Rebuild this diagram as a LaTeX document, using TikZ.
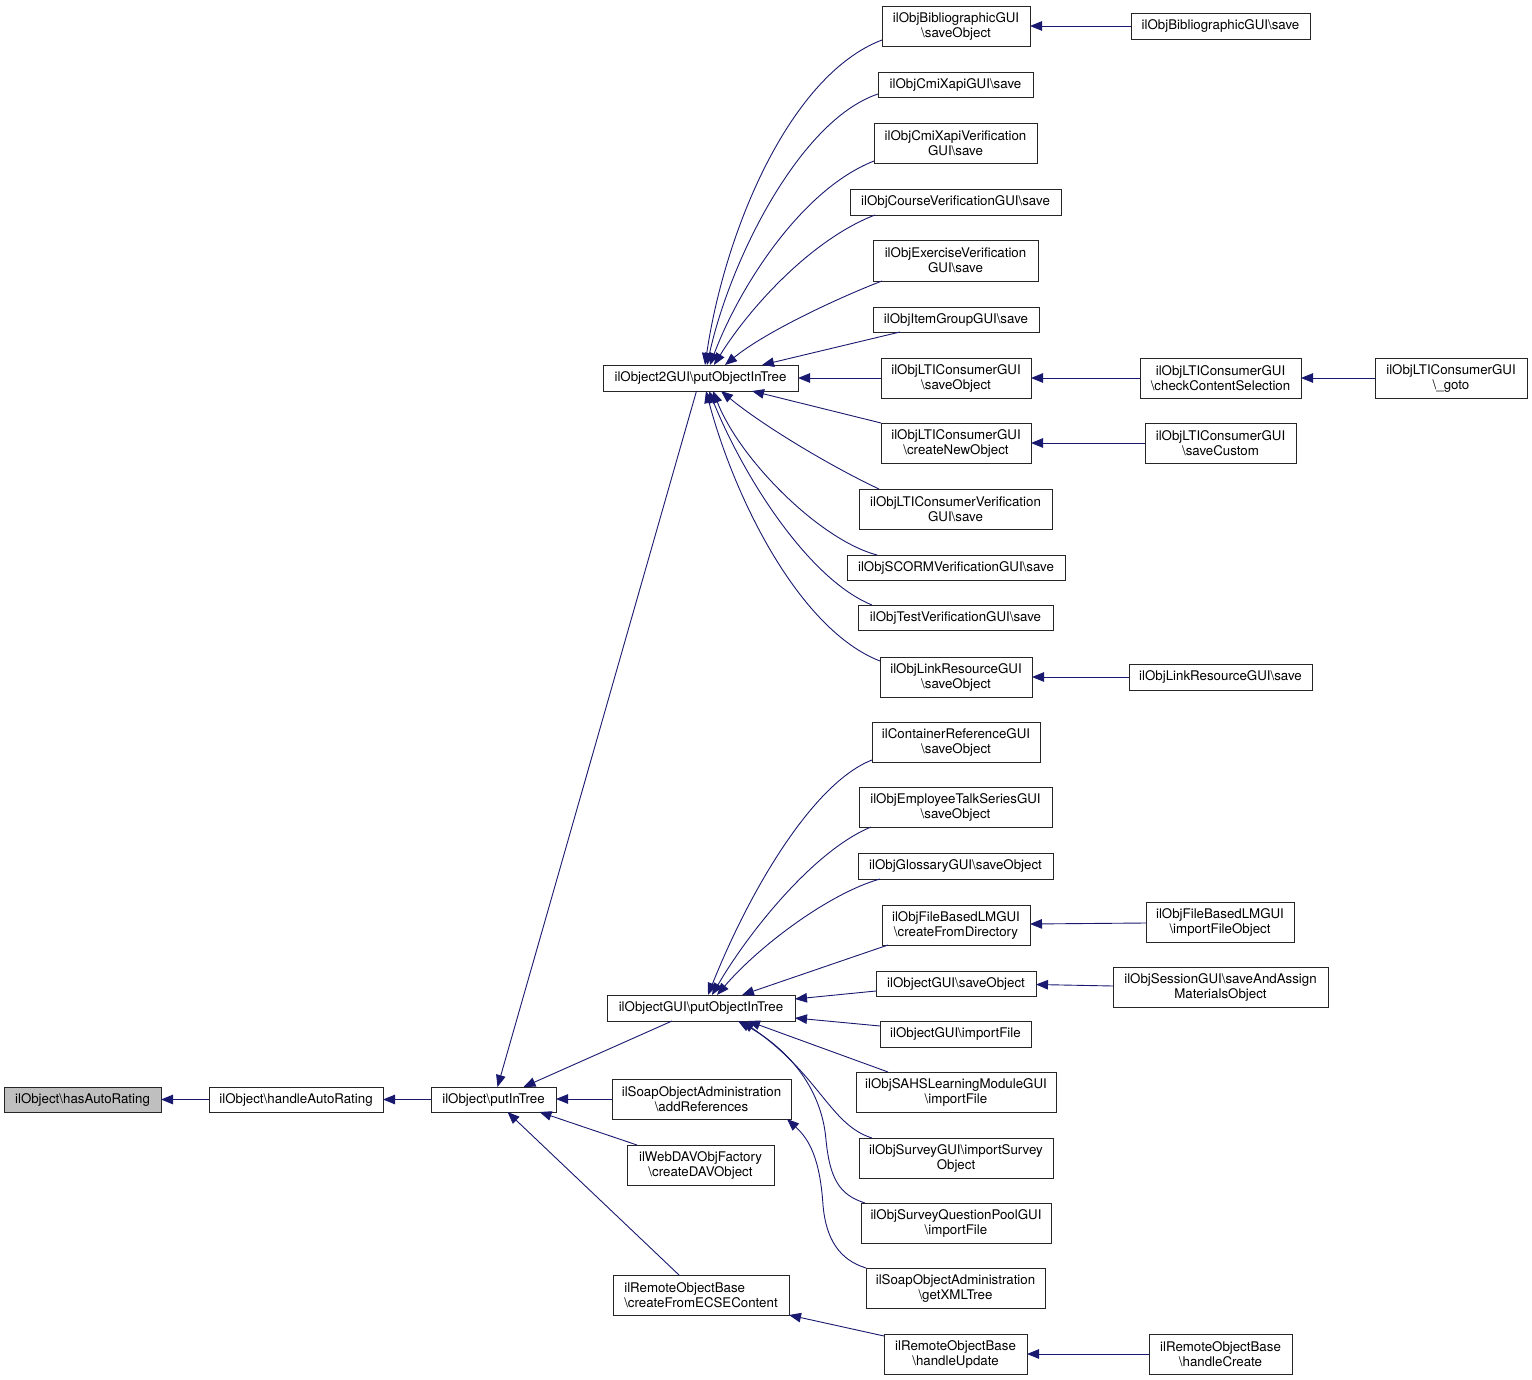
\documentclass[tikz,border=0pt]{standalone}
\usepackage{fontspec}
\setmainfont{TeX Gyre Heros}
\usetikzlibrary{arrows.meta,calc}
\definecolor{edgeblue}{HTML}{191970}
\definecolor{nodegray}{HTML}{BFBFBF}
\newcommand{\bsl}{\textbackslash}
\newcommand{\bx}[6]{\node[box,#1,minimum width={#5pt-#3pt},minimum height={#6pt-#4pt}] (#2) at ({(#3+#5)/2},{(#4+#6)/2})}
\tikzset{
  box/.style={draw=black!85, line width=0.9pt, fill=white, inner sep=0pt, outer sep=0pt, align=center,
    font=\fontsize{13.3}{15}\selectfont, text=black},
  edge/.style={draw=edgeblue, line width=0.9pt, -{Triangle[length=12pt,width=9.5pt]}},
}
\begin{document}
\begin{tikzpicture}[x=1pt,y=-1pt]
\useasboundingbox (0,0) rectangle (1532,1380);
\fill[white] (0,0) rectangle (1532,1380);
% left part
\bx{fill=nodegray}{has}{4}{1087}{161}{1112}{ilObject\bsl hasAutoRating};
\bx{}{hand}{209}{1087}{383}{1112}{ilObject\bsl handleAutoRating};
\bx{}{put}{431}{1087}{556}{1112}{ilObject\bsl putInTree};
\bx{}{o2}{603}{365}{798}{391}{ilObject2GUI\bsl putObjectInTree};
\bx{}{og}{607}{995}{795}{1021}{ilObjectGUI\bsl putObjectInTree};
\bx{}{soapadd}{612}{1079}{791}{1119}{ilSoapObjectAdministration\\\bsl addReferences};
\bx{}{webdav}{627}{1145}{774}{1185}{ilWebDAVObjFactory\\\bsl createDAVObject};
\bx{align=left}{ecse}{613}{1275}{789}{1315}{ilRemoteObjectBase\\\bsl createFromECSEContent};
% column 1
\bx{}{bibso}{882}{6}{1030}{46}{ilObjBibliographicGUI\\\bsl saveObject};
\bx{}{cmix}{878}{72}{1033}{97}{ilObjCmiXapiGUI\bsl save};
\bx{}{cmixv}{874}{123}{1037}{163}{ilObjCmiXapiVerification\\GUI\bsl save};
\bx{}{course}{850}{189}{1061}{215}{ilObjCourseVerificationGUI\bsl save};
\bx{}{exer}{873}{240}{1038}{281}{ilObjExerciseVerification\\GUI\bsl save};
\bx{}{item}{873}{307}{1039}{332}{ilObjItemGroupGUI\bsl save};
\bx{}{ltiso}{881}{358}{1031}{398}{ilObjLTIConsumerGUI\\\bsl saveObject};
\bx{}{ltinew}{881}{423}{1031}{463}{ilObjLTIConsumerGUI\\\bsl createNewObject};
\bx{}{ltiver}{859}{489}{1052}{529}{ilObjLTIConsumerVerification\\GUI\bsl save};
\bx{}{scorm}{847}{555}{1065}{580}{ilObjSCORMVerificationGUI\bsl save};
\bx{}{test}{858}{605}{1053}{630}{ilObjTestVerificationGUI\bsl save};
\bx{}{linkso}{880}{657}{1032}{697}{ilObjLinkResourceGUI\\\bsl saveObject};
\bx{}{cref}{872}{722}{1040}{762}{ilContainerReferenceGUI\\\bsl saveObject};
\bx{}{emp}{859}{787}{1052}{827}{ilObjEmployeeTalkSeriesGUI\\\bsl saveObject};
\bx{}{gloss}{858}{853}{1053}{879}{ilObjGlossaryGUI\bsl saveObject};
\bx{}{fbdir}{882}{905}{1030}{945}{ilObjFileBasedLMGUI\\\bsl createFromDirectory};
\bx{}{ogso}{876}{971}{1036}{996}{ilObjectGUI\bsl saveObject};
\bx{}{ogimp}{880}{1021}{1031}{1047}{ilObjectGUI\bsl importFile};
\bx{}{sahs}{856}{1072}{1056}{1112}{ilObjSAHSLearningModuleGUI\\\bsl importFile};
\bx{}{survey}{859}{1138}{1053}{1178}{ilObjSurveyGUI\bsl importSurvey\\Object};
\bx{}{sqp}{861}{1203}{1051}{1243}{ilObjSurveyQuestionPoolGUI\\\bsl importFile};
\bx{}{soapxml}{866}{1268}{1045}{1308}{ilSoapObjectAdministration\\\bsl getXMLTree};
\bx{}{hupd}{884}{1334}{1027}{1374}{ilRemoteObjectBase\\\bsl handleUpdate};
% column 2
\bx{}{bibs}{1131}{13}{1310}{39}{ilObjBibliographicGUI\bsl save};
\bx{}{check}{1140}{358}{1301}{398}{ilObjLTIConsumerGUI\\\bsl checkContentSelection};
\bx{}{scust}{1145}{423}{1296}{463}{ilObjLTIConsumerGUI\\\bsl saveCustom};
\bx{}{links}{1129}{664}{1312}{690}{ilObjLinkResourceGUI\bsl save};
\bx{}{fbimp}{1146}{902}{1294}{942}{ilObjFileBasedLMGUI\\\bsl importFileObject};
\bx{}{sess}{1113}{967}{1328}{1007}{ilObjSessionGUI\bsl saveAndAssign\\MaterialsObject};
\bx{}{hcre}{1149}{1334}{1292}{1374}{ilRemoteObjectBase\\\bsl handleCreate};
% column 3
\bx{}{goto}{1375}{358}{1527}{398}{ilObjLTIConsumerGUI\\\bsl\_goto};

% edges: left part
\draw[edge] (hand.west) -- (has.east);
\draw[edge] (put.west) -- (hand.east);
\draw[edge] ($(o2.south)+(-4,0)$) -- ($(put.north)+(4,0)$);
\draw[edge] ($(og.south)+(-29,0)$) -- ($(put.north)+(30,0)$);
\draw[edge] (soapadd.west) -- (soapadd.west -| put.east);
\draw[edge] ($(webdav.north west)+(10,0)$) -- ($(put.south)+(46,0)$);
\draw[edge] ($(ecse.north)+(-22,0)$) -- ($(put.south)+(14,0)$);
% edges into o2 (top)
\draw[edge] ($(bibso.south west)+(0,-6)$) .. controls (790,75) and (725,230) .. ($(o2.north west)+(102,0)$);
\draw[edge] ($(cmix.south west)+(0,-3)$) .. controls (800,120) and (730,260) .. ($(o2.north west)+(104,0)$);
\draw[edge] ($(cmixv.south west)+(0,-2)$) .. controls (800,190) and (738,290) .. ($(o2.north west)+(107,0)$);
\draw[edge] ($(course.south west)+(25,0)$) .. controls (810,240) and (748,310) .. ($(o2.north west)+(111,0)$);
\draw[edge] ($(exer.south west)+(9,0)$) .. controls (840,297) and (765,332) .. ($(o2.north west)+(122,0)$);
\draw[edge] ($(item.south west)+(27,0)$) -- ($(o2.north west)+(159,0)$);
\draw[edge] (ltiso.west) -- (o2.east);
% edges into o2 (bottom)
\draw[edge] (ltinew.north west) -- ($(o2.south west)+(149,0)$);
\draw[edge] ($(ltiver.north west)+(20,0)$) .. controls (830,466) and (762,425) .. ($(o2.south west)+(118,0)$);
\draw[edge] ($(scorm.north west)+(30,0)$) .. controls (820,540) and (740,460) .. ($(o2.south west)+(110,0)$);
\draw[edge] ($(test.north west)+(14,0)$) .. controls (810,580) and (745,480) .. ($(o2.south west)+(106,0)$);
\draw[edge] ($(linkso.north west)+(0,4)$) .. controls (800,630) and (735,500) .. ($(o2.south west)+(103,0)$);
% edges into og
\draw[edge] ($(cref.south west)+(0,-2)$) .. controls (815,782) and (752,885) .. ($(og.north west)+(101,0)$);
\draw[edge] ($(emp.south west)+(12,0)$) .. controls (815,850) and (750,930) .. ($(og.north west)+(105,0)$);
\draw[edge] ($(gloss.south west)+(22,0)$) .. controls (830,893) and (760,945) .. ($(og.north west)+(110,0)$);
\draw[edge] ($(fbdir.south west)+(6,0)$) -- ($(og.north west)+(135,0)$);
\draw[edge] ($(ogso.west)+(0,7.5)$) -- ($(og.east)+(0,-9)$);
\draw[edge] ($(ogimp.west)+(0,-8)$) -- ($(og.east)+(0,10)$);
\draw[edge] ($(sahs.north west)+(32,0)$) -- ($(og.south west)+(141,0)$);
\draw[edge] ($(survey.north west)+(13,0)$) .. controls (830,1125) and (820,1075) .. ($(og.south west)+(135,0)$);
\draw[edge] ($(sqp.north west)+(4,0)$) .. controls (840,1195) and (830,1180) .. (826,1140) .. controls (822,1090) and (790,1050) .. ($(og.south west)+(131,0)$);
\draw[edge] (soapxml.north west) .. controls (840,1260) and (826,1240) .. (823,1205) .. controls (820,1160) and (810,1140) .. ($(soapadd.south west)+(175,0)$);
\draw[edge] ($(hupd.north west)+(0,2)$) -- (ecse.south east);
% column 2 -> column 1
\draw[edge] (bibs.west) -- (bibs.west -| bibso.east);
\draw[edge] (check.west) -- (ltiso.east);
\draw[edge] (goto.west) -- (check.east);
\draw[edge] (scust.west) -- (ltinew.east);
\draw[edge] (links.west) -- (links.west -| linkso.east);
\draw[edge] ($(fbimp.west)+(0,1)$) -- ($(fbdir.east)+(0,-1)$);
\draw[edge] ($(sess.west)+(0,-1)$) -- ($(ogso.east)+(0,1)$);
\draw[edge] (hcre.west) -- (hupd.east);
\end{tikzpicture}
\end{document}
